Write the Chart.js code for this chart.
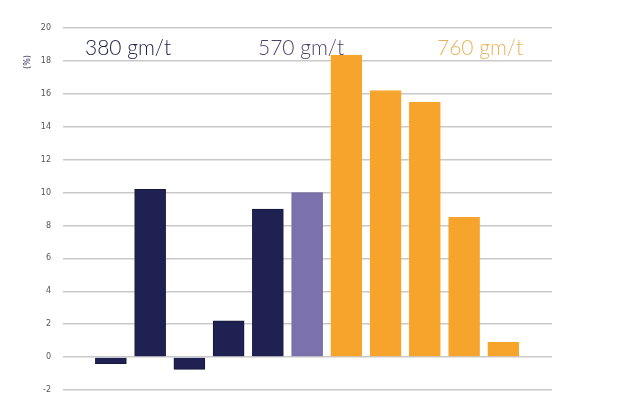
<!DOCTYPE html>
<html>
<head>
<meta charset="utf-8">
<script src="https://cdn.jsdelivr.net/npm/chart.js@4"></script>
<style>
  html, body { margin: 0; padding: 0; background: #fff; }
  #wrap { width: 638px; height: 400px; }
</style>
</head>
<body>
<div id="wrap"><canvas id="chart" width="638" height="400"></canvas></div>
<script>
// values, one per bar, left to right
const positions = [1, 2, 3, 4, 5, 6, 7, 8, 9, 10, 11];
const values = [-0.4, 10.2, -0.75, 2.2, 9.0, 10.0, 18.35, 16.2, 15.5, 8.5, 0.9];
const groups = ['380', '380', '380', '380', '380', '570', '760', '760', '760', '760', '760'];
const groupLabels = ['380 gm/t', '570 gm/t', '760 gm/t'];
const yTicks = [-2, 0, 2, 4, 6, 8, 10, 12, 14, 16, 18, 20];

const barColors = { '380': '#1f2152', '570': '#7b71ac', '760': '#f6a42b' };
const borderColors = { '380': '#15173a', '570': '#6f66a0', '760': '#f6a42b' };
const labelColors = ['#24224a', '#4e3f6e', '#e6b45a'];

const overlay = {
  id: 'overlay',
  afterDraw(chart) {
    const ctx = chart.ctx;
    ctx.save();
    ctx.font = '300 21px Lato, "Open Sans", sans-serif';
    ctx.textBaseline = 'alphabetic';
    ctx.fillStyle = labelColors[0];
    ctx.fillText(groupLabels[0], 85, 55);
    ctx.fillStyle = labelColors[1];
    ctx.fillText(groupLabels[1], 258, 55);
    ctx.fillStyle = labelColors[2];
    ctx.fillText(groupLabels[2], 437, 55);
    // axis unit
    ctx.translate(28, 62);
    ctx.rotate(-Math.PI / 2);
    ctx.font = '8px "DejaVu Sans", sans-serif';
    ctx.fillStyle = '#2a2a5a';
    ctx.textAlign = 'center';
    ctx.textBaseline = 'middle';
    ctx.fillText('(%)', 0, 0);
    ctx.restore();
  }
};

new Chart(document.getElementById('chart'), {
  type: 'bar',
  data: {
    datasets: [{
      data: positions.map((p, i) => ({ x: p, y: values[i] })),
      backgroundColor: groups.map(g => barColors[g]),
      borderColor: groups.map(g => borderColors[g]),
      borderWidth: 1,
      barThickness: 31
    }]
  },
  options: {
    responsive: false,
    animation: false,
    layout: { padding: { left: 0, top: 28, right: 86, bottom: 10 } },
    plugins: { legend: { display: false }, tooltip: { enabled: false } },
    scales: {
      x: {
        type: 'linear',
        display: false,
        offset: false,
        min: -0.22,
        max: 12.24
      },
      y: {
        min: -2,
        max: 20,
        afterBuildTicks: s => { s.ticks = yTicks.map(v => ({ value: v })); },
        afterFit: s => {
          s.width = 63;
          // tick padding would otherwise push the plot area up from the bottom
          s.paddingTop = 5;
          s.paddingBottom = 5;
        },
        border: { display: false },
        grid: { color: '#c9c9c9', lineWidth: 1.5, drawTicks: false },
        ticks: {
          padding: 12,
          color: '#555',
          font: { size: 8, family: '"DejaVu Sans", sans-serif' }
        }
      }
    }
  },
  plugins: [overlay]
});
</script>
</body>
</html>
